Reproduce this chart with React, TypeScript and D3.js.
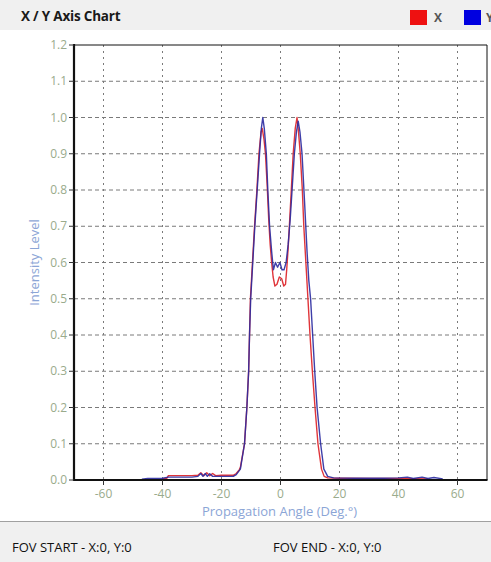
import React from "react";
import * as d3 from "d3";

const xTicks = [-60, -40, -20, 0, 20, 40, 60];
const yTicks = [0, 0.1, 0.2, 0.3, 0.4, 0.5, 0.6, 0.7, 0.8, 0.9, 1.0, 1.1, 1.2];

const redAngles = [-40, -38.5, -38, -30, -28, -27, -26, -25, -24, -23, -22, -20, -16, -15, -14, -13.6, -12.2, -11.4, -10.8, -10.5, -10.2, -9.5, -8.8, -8, -7.3, -6.6, -6.2, -5.6, -5.1, -4.5, -4, -3.5, -3, -2.5, -1.9, -1.2, -0.4, 0.4, 1.1, 1.7, 2.1, 2.6, 3.0, 3.6, 4.3, 5.0, 5.6, 6.1, 6.7, 7.4, 7.9, 8.6, 9.3, 10.0, 10.8, 11.7, 12.7, 13.9, 14.8, 16, 20, 30, 40, 50];
const redValues = [0.003, 0.005, 0.012, 0.012, 0.013, 0.02, 0.012, 0.02, 0.012, 0.018, 0.012, 0.013, 0.013, 0.018, 0.028, 0.035, 0.1, 0.2, 0.3, 0.4, 0.5, 0.6, 0.7, 0.8, 0.9, 0.96, 0.97, 0.94, 0.9, 0.81, 0.72, 0.65, 0.6, 0.56, 0.535, 0.54, 0.56, 0.555, 0.535, 0.54, 0.58, 0.64, 0.7, 0.79, 0.9, 0.97, 1.0, 0.96, 0.9, 0.8, 0.7, 0.6, 0.5, 0.4, 0.3, 0.2, 0.1, 0.03, 0.01, 0.006, 0.005, 0.004, 0.004, 0.003];

const blueAngles = [-47, -45, -40, -38, -30, -28, -27, -26.3, -25.5, -24.8, -24, -23, -20, -16, -15, -13.6, -12.2, -11.4, -10.8, -10.5, -10.1, -9.4, -8.7, -7.9, -7.1, -6.5, -6, -5.5, -4.8, -4.3, -3.7, -3.0, -2.4, -1.7, -1, -0.2, 0.5, 1.2, 1.9, 2.6, 3.3, 4, 4.7, 5.4, 6, 6.6, 7.3, 8.2, 9, 9.6, 10.2, 10.9, 11.6, 12.4, 13.6, 14.7, 16.0, 18, 25, 35, 40, 43, 45, 48, 50, 52, 55];
const blueValues = [0.002, 0.004, 0.005, 0.008, 0.008, 0.01, 0.018, 0.01, 0.018, 0.01, 0.017, 0.01, 0.01, 0.01, 0.015, 0.03, 0.1, 0.2, 0.3, 0.4, 0.5, 0.6, 0.7, 0.8, 0.9, 0.97, 1.0, 0.97, 0.9, 0.8, 0.7, 0.63, 0.58, 0.6, 0.587, 0.6, 0.58, 0.58, 0.6, 0.65, 0.72, 0.81, 0.9, 0.96, 0.99, 0.96, 0.9, 0.76, 0.63, 0.55, 0.5, 0.4, 0.3, 0.2, 0.1, 0.03, 0.01, 0.006, 0.005, 0.005, 0.006, 0.008, 0.004, 0.008, 0.004, 0.007, 0.003];

const FONT = "'Open Sans', 'Noto Sans', sans-serif";

export default function App() {
  const W = 491, H = 562;
  const left = 74, right = 487, top = 45, bottom = 480;
  const x = d3.scaleLinear().domain([-70, 70]).range([left, right]);
  const y = d3.scaleLinear().domain([0, 1.2]).range([bottom, top]);
  const line = d3.line<[number, number]>().x(d => x(d[0])).y(d => y(d[1]));
  const red = line(redAngles.map((a, i) => [a, redValues[i]] as [number, number])) || "";
  const blue = line(blueAngles.map((a, i) => [a, blueValues[i]] as [number, number])) || "";
  const tickColor = "#9aab8c";
  const titleColor = "#8ba5d6";

  return (
    <svg width={W} height={H} style={{ position: "absolute", left: 0, top: 0, background: "#fff" }} fontFamily={FONT}>
      <rect x={0} y={0} width={W} height={30} fill="#f0f0f0" />
      <text x={21} y={21} fontSize={13.5} fontWeight="bold" fill="#1a1a1a" letterSpacing={-0.2}>X / Y Axis Chart</text>
      <rect x={410} y={10} width={17} height={15} fill="#ee1111" />
      <text x={434} y={22} fontSize={12} fontWeight="bold" fill="#555">X</text>
      <rect x={464} y={10} width={17} height={15} fill="#0000e0" />
      <text x={486} y={22} fontSize={12} fontWeight="bold" fill="#555">Y</text>

      {xTicks.map(t => (
        <line key={"gx" + t} x1={x(t)} x2={x(t)} y1={top} y2={bottom} stroke="#7a7a7a" strokeWidth={1} strokeDasharray="2,4" />
      ))}
      {yTicks.filter(t => t > 0 && t < 1.2).map(t => (
        <line key={"gy" + t} x1={left} x2={right} y1={y(t)} y2={y(t)} stroke="#7a7a7a" strokeWidth={1} strokeDasharray="4,3" />
      ))}

      <path d={red} fill="none" stroke="#e0353a" strokeWidth={1.4} strokeLinejoin="round" />
      <path d={blue} fill="none" stroke="#2a2aa0" strokeWidth={1.4} strokeLinejoin="round" opacity={0.9} />

      <line x1={left} x2={right} y1={top} y2={top} stroke="#111" strokeWidth={1} />
      <line x1={right} x2={right} y1={top} y2={bottom} stroke="#111" strokeWidth={1} />
      <line x1={left} x2={left} y1={top - 1} y2={bottom + 1} stroke="#111" strokeWidth={2.2} />
      <line x1={left - 1} x2={right + 0.5} y1={bottom} y2={bottom} stroke="#111" strokeWidth={2.2} />

      {yTicks.map(t => (
        <g key={"ty" + t}>
          <line x1={left - 5} x2={left} y1={y(t)} y2={y(t)} stroke="#333" strokeWidth={1} />
          <text x={left - 7} y={y(t)} dy="0.35em" textAnchor="end" fontSize={12} fill={tickColor}>{t.toFixed(1)}</text>
        </g>
      ))}
      {xTicks.map(t => (
        <g key={"tx" + t}>
          <line x1={x(t)} x2={x(t)} y1={bottom} y2={bottom + 5} stroke="#333" strokeWidth={1} />
          <text x={x(t)} y={bottom + 18} textAnchor="middle" fontSize={12} fill={tickColor}>{t}</text>
        </g>
      ))}

      <text x={(left + right) / 2 - 1} y={516} textAnchor="middle" fontSize={13} fill={titleColor}>Propagation Angle (Deg.°)</text>
      <text transform={`translate(39, ${(top + bottom) / 2}) rotate(-90)`} textAnchor="middle" fontSize={13} fill={titleColor}>Intensity Level</text>

      <rect x={0} y={521} width={W} height={H - 521} fill="#f0f0f0" />
      <line x1={0} x2={W} y1={521.5} y2={521.5} stroke="#a0a0a0" />
      <text x={12} y={552} fontSize={13} fill="#111">FOV START - X:0, Y:0</text>
      <text x={273} y={552} fontSize={13} fill="#111">FOV END - X:0, Y:0</text>
    </svg>
  );
}
